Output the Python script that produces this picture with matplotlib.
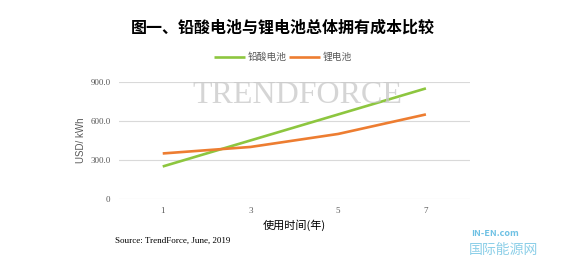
import matplotlib
matplotlib.use("Agg")
import matplotlib.pyplot as plt

plt.rcParams['font.family'] = ['Noto Sans CJK SC', 'DejaVu Sans']

years = ['1', '3', '5', '7']
lead_acid = [250, 450, 650, 850]
lithium = [350, 400, 500, 650]
yticks = [0, 300, 600, 900]
ytick_labels = ['0', '300.0', '600.0', '900.0']

fig = plt.figure(figsize=(5.66, 2.65), dpi=100)
ax = fig.add_axes([0.210, 0.249, 0.620, 0.442])

x = list(range(len(years)))
ax.plot(x, lead_acid, color='#8DC63F', lw=1.9, label='铅酸电池', solid_capstyle='butt')
ax.plot(x, lithium, color='#ED7D31', lw=1.9, label='锂电池', solid_capstyle='butt')

ax.set_xlim(-0.5, len(years) - 0.5)
ax.set_ylim(0, 900)
ax.set_yticks(yticks)
ax.set_yticklabels(ytick_labels, fontfamily='Liberation Serif', fontsize=6.5, color='#595959')
ax.set_xticks(x)
ax.set_xticklabels(years, fontfamily='Liberation Serif', fontsize=6.5, color='#595959')
ax.tick_params(length=0, pad=6)
ax.grid(axis='y', color='#D9D9D9', lw=0.8)
ax.set_axisbelow(True)
for s in ax.spines.values():
    s.set_visible(False)

ax.set_ylabel('USD/ kWh', fontsize=7, color='#595959', fontfamily=['Liberation Sans', 'DejaVu Sans'], labelpad=3)
ax.set_xlabel('使用时间(年)', fontsize=8, color='#000000', labelpad=3)

fig.text(0.5, 0.895, '图一、铅酸电池与锂电池总体拥有成本比较', ha='center', va='center',
         fontsize=11.5, fontweight='bold', color='#000000')

leg = fig.legend(loc='center', bbox_to_anchor=(0.5, 0.785), ncol=2, frameon=False,
                 fontsize=7, handlelength=3.2, handletextpad=0.3, columnspacing=0.2)
for t in leg.get_texts():
    t.set_color('#595959')

fig.text(0.203, 0.09, 'Source: TrendForce, June, 2019', ha='left', va='center',
         fontsize=6.5, fontfamily='Liberation Serif', color='#000000')

# watermarks
fig.text(0.525, 0.64, 'TRENDFORCE', ha='center', va='center', fontsize=23,
         fontfamily='Liberation Serif', color='#C8C8C8', alpha=0.75)
fig.text(0.875, 0.12, 'IN-EN.com', ha='center', va='center', fontsize=6.5,
         color='#6EC1E4', style='italic', fontweight='bold')
fig.text(0.89, 0.057, '国际能源网', ha='center', va='center', fontsize=10,
         color='#8CCFE8', style='italic')

fig.savefig('out.png', dpi=100, facecolor='white')
